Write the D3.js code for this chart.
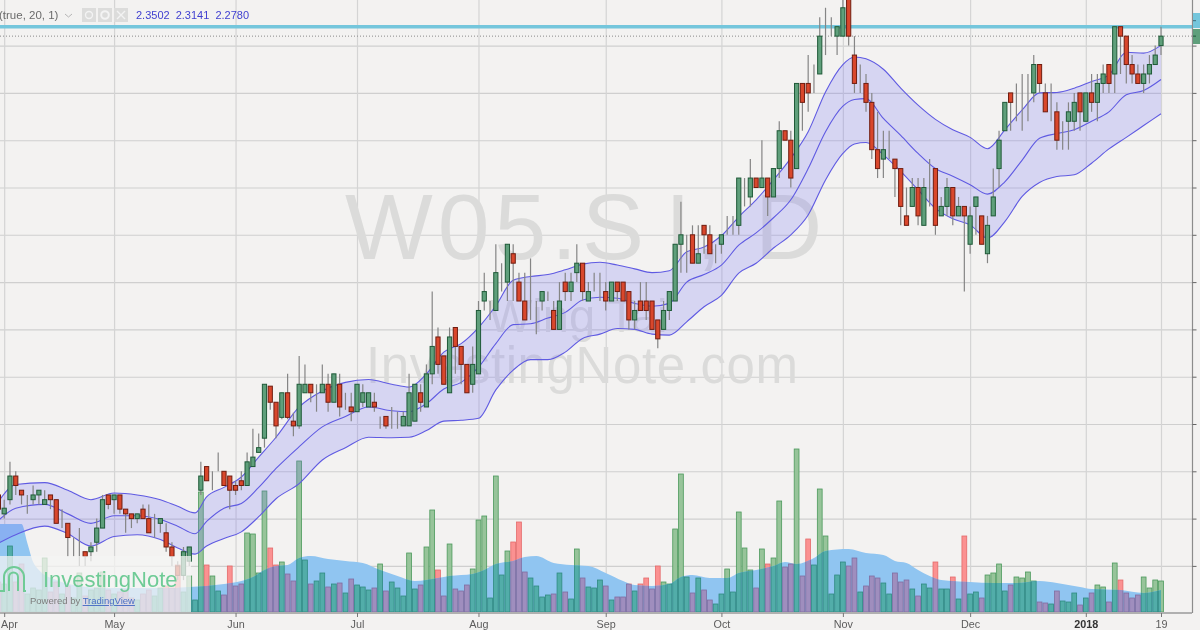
<!DOCTYPE html>
<html>
<head>
<meta charset="utf-8">
<title>W05.SI</title>
<script src="https://cdn.jsdelivr.net/npm/d3@7/dist/d3.min.js"></script>
<style>
html, body { margin: 0; padding: 0; background: #f3f2f1; overflow: hidden; }
/* the reference is a soft jpeg */
svg { display: block; font-family: "Liberation Sans", Arial, sans-serif; filter: blur(0.4px); }
</style>
</head>
<body>
<svg id="chart" width="1200" height="630"></svg>
<script>
// daily candles (cents mostly, index 0 is the bar just before 3 Apr)
const opens = [
  1.875,1.855,1.87,1.895,1.88,1.87,1.87,1.875,1.865,1.875,
  1.87,1.85,1.845,1.825,1.815,1.815,1.815,1.825,1.84,1.875,
  1.87,1.875,1.86,1.855,1.85,1.86,1.85,1.835,1.845,1.835,
  1.82,1.80,1.79,1.805,1.82,1.88,1.905,1.90,1.905,1.90,
  1.895,1.885,1.89,1.885,1.905,1.92,1.935,1.99,1.973,1.957,
  1.983,1.953,1.948,1.983,1.992,1.992,1.983,1.992,1.973,1.992,
  1.983,1.968,1.963,1.973,1.968,1.973,1.958,1.958,1.948,1.958,
  1.948,1.948,1.953,1.983,1.968,2.003,2.042,2.022,1.983,2.052,
  2.032,2.013,1.992,2.003,2.08,2.07,2.07,2.11,2.10,2.13,
  2.10,2.08,2.07,2.07,2.08,2.08,2.07,2.05,2.10,2.09,
  2.11,2.12,2.08,2.10,2.10,2.09,2.08,2.10,2.10,2.09,
  2.06,2.08,2.08,2.08,2.06,2.05,2.07,2.08,2.14,2.15,
  2.15,2.12,2.16,2.15,2.13,2.14,2.15,2.17,2.16,2.21,
  2.19,2.21,2.20,2.21,2.19,2.22,2.26,2.25,2.22,2.31,
  2.31,2.32,2.32,2.36,2.36,2.36,2.36,2.40,2.34,2.31,
  2.31,2.29,2.24,2.23,2.24,2.23,2.22,2.17,2.18,2.20,
  2.16,2.20,2.22,2.17,2.18,2.20,2.17,2.18,2.14,2.18,
  2.17,2.13,2.17,2.22,2.26,2.30,2.30,2.30,2.30,2.30,
  2.33,2.30,2.28,2.28,2.25,2.27,2.27,2.30,2.27,2.30,
  2.29,2.31,2.33,2.32,2.37,2.36,2.33,2.32,2.31,2.32,
  2.33,2.35
];
const closes = [
  1.86,1.861,1.895,1.885,1.875,1.87,1.875,1.88,1.87,1.87,
  1.845,1.85,1.83,1.825,1.815,1.81,1.82,1.84,1.87,1.865,
  1.875,1.86,1.855,1.85,1.855,1.85,1.835,1.835,1.85,1.82,
  1.81,1.79,1.815,1.82,1.82,1.895,1.89,1.90,1.905,1.885,
  1.88,1.88,1.885,1.91,1.915,1.925,1.992,1.973,1.948,1.983,
  1.957,1.948,1.992,1.992,1.983,1.992,1.992,1.973,2.003,1.968,
  1.983,1.963,1.992,1.983,1.983,1.968,1.958,1.948,1.948,1.958,
  1.958,1.983,1.992,1.973,2.003,2.032,2.013,1.992,2.042,2.032,
  2.013,1.983,2.013,2.07,2.09,2.07,2.11,2.11,2.14,2.12,
  2.08,2.06,2.07,2.07,2.09,2.08,2.05,2.08,2.09,2.10,
  2.12,2.09,2.09,2.10,2.10,2.08,2.10,2.09,2.08,2.06,
  2.07,2.07,2.07,2.05,2.04,2.07,2.09,2.14,2.15,2.15,
  2.12,2.13,2.15,2.13,2.13,2.15,2.15,2.17,2.21,2.21,
  2.21,2.20,2.21,2.19,2.22,2.26,2.25,2.21,2.31,2.29,
  2.30,2.32,2.36,2.36,2.36,2.37,2.39,2.36,2.31,2.31,
  2.29,2.24,2.22,2.24,2.24,2.22,2.18,2.16,2.20,2.17,
  2.20,2.20,2.16,2.18,2.20,2.17,2.18,2.17,2.17,2.19,
  2.14,2.16,2.19,2.25,2.29,2.29,2.30,2.30,2.30,2.33,
  2.31,2.28,2.28,2.25,2.25,2.28,2.29,2.28,2.30,2.29,
  2.31,2.32,2.31,2.37,2.36,2.33,2.32,2.31,2.32,2.33,
  2.34,2.36
];
const highs = [
  1.88,1.87,1.91,1.90,1.88,1.875,1.885,1.88,1.88,1.875,
  1.87,1.86,1.845,1.83,1.84,1.815,1.825,1.85,1.875,1.875,
  1.875,1.875,1.86,1.855,1.855,1.865,1.865,1.855,1.85,1.845,
  1.825,1.805,1.82,1.82,1.82,1.91,1.905,1.90,1.92,1.90,
  1.895,1.89,1.90,1.92,1.945,1.94,1.992,1.99,1.973,1.983,
  2.003,1.962,2.022,2.013,1.992,1.992,2.013,2.003,2.003,2.003,
  1.983,1.983,1.992,1.992,1.983,1.983,1.958,1.958,1.968,1.963,
  1.963,2.003,1.992,1.992,2.013,2.09,2.052,2.022,2.052,2.052,
  2.032,2.013,2.032,2.08,2.11,2.08,2.14,2.12,2.14,2.14,
  2.11,2.11,2.125,2.08,2.09,2.09,2.08,2.10,2.11,2.11,
  2.14,2.12,2.10,2.11,2.11,2.10,2.10,2.10,2.10,2.09,
  2.08,2.10,2.10,2.08,2.06,2.08,2.09,2.14,2.185,2.15,
  2.16,2.16,2.16,2.16,2.14,2.15,2.17,2.17,2.21,2.21,
  2.23,2.21,2.25,2.21,2.22,2.27,2.26,2.26,2.31,2.31,
  2.34,2.33,2.38,2.39,2.38,2.37,2.40,2.42,2.36,2.33,
  2.32,2.30,2.28,2.26,2.26,2.23,2.22,2.20,2.21,2.21,
  2.21,2.23,2.22,2.19,2.21,2.20,2.19,2.18,2.18,2.19,
  2.17,2.17,2.22,2.26,2.29,2.30,2.31,2.32,2.32,2.34,
  2.33,2.31,2.31,2.29,2.27,2.29,2.30,2.30,2.30,2.32,
  2.32,2.33,2.33,2.37,2.37,2.36,2.34,2.33,2.33,2.34,
  2.35,2.37
];
const lows = [
  1.855,1.85,1.865,1.875,1.865,1.855,1.865,1.865,1.865,1.86,
  1.845,1.84,1.81,1.81,1.80,1.80,1.805,1.815,1.84,1.86,
  1.855,1.855,1.835,1.84,1.845,1.85,1.835,1.83,1.835,1.815,
  1.80,1.785,1.785,1.80,1.82,1.875,1.89,1.88,1.90,1.885,
  1.86,1.875,1.88,1.885,1.905,1.92,1.925,1.965,1.935,1.955,
  1.955,1.937,1.945,1.983,1.973,1.963,1.983,1.963,1.973,1.958,
  1.965,1.953,1.963,1.968,1.968,1.963,1.945,1.945,1.945,1.945,
  1.948,1.948,1.953,1.963,1.968,1.992,2.003,1.992,1.983,2.003,
  1.992,1.983,1.983,2.003,2.07,2.06,2.07,2.09,2.08,2.08,
  2.08,2.06,2.06,2.045,2.07,2.08,2.05,2.05,2.08,2.08,
  2.10,2.08,2.08,2.09,2.08,2.07,2.08,2.08,2.08,2.05,
  2.05,2.07,2.06,2.05,2.03,2.05,2.06,2.08,2.11,2.11,
  2.12,2.12,2.13,2.13,2.12,2.13,2.15,2.15,2.15,2.18,
  2.18,2.20,2.20,2.17,2.19,2.21,2.25,2.20,2.22,2.26,
  2.28,2.30,2.32,2.34,2.36,2.34,2.36,2.35,2.30,2.30,
  2.28,2.23,2.21,2.21,2.23,2.19,2.16,2.16,2.18,2.16,
  2.16,2.18,2.15,2.17,2.17,2.16,2.17,2.09,2.13,2.15,
  2.14,2.12,2.17,2.20,2.26,2.26,2.27,2.26,2.27,2.29,
  2.30,2.28,2.27,2.24,2.24,2.24,2.26,2.26,2.27,2.28,
  2.27,2.30,2.30,2.30,2.32,2.31,2.31,2.31,2.30,2.31,
  2.33,2.34
];
// volume in picture units, no axis labels on this pane
const volumes = [
  30,28,66,30,48,18,24,22,54,20,
  30,18,26,14,39,16,22,24,40,22,
  18,20,22,14,12,18,22,16,24,26,
  24,47,20,36,12,120,47,36,21,17,
  46,26,28,79,78,39,121,64,47,50,
  38,31,151,52,28,31,39,25,28,29,
  19,33,27,25,22,24,48,21,30,24,
  16,59,23,27,65,102,42,16,68,23,
  21,27,43,92,96,14,136,37,61,70,
  90,40,34,26,15,17,18,39,20,13,
  63,34,25,24,32,26,12,15,15,28,
  21,28,34,23,46,30,28,83,138,35,
  19,34,22,12,8,18,43,20,100,64,
  42,24,63,48,54,111,45,48,163,36,
  73,47,123,76,18,37,50,46,54,20,
  26,36,34,29,18,39,30,32,23,16,
  28,24,50,23,23,35,13,76,18,20,
  14,37,39,48,21,27,35,34,40,31,
  10,9,8,21,11,10,19,7,14,19,
  27,25,10,49,32,19,14,17,35,24,
  32,31
];
// volume average, sampled where the curve bends
const volMaIdx = [0,4,5,6,7,10,14,18,22,26,30,33,36,39,42,44,46,48,50,52,54,57,60,63,66,69,72,74,76,78,82,84,86,89,91,93,96,99,102,105,108,110,113,116,118,120,123,126,128,131,134,136,138,141,143,147,150,153,155,157,159,161,163,168,172,176,180,183,187,189,194,198,201];
const volMa = [88,88,69,50,42,32,26,24,24,24,24,25,26,28,31,35,42,46,47,54,56,53,51,49,42,36,31,32,34,36,38,42,48,51,55,56,49,47,46,39,31,27,26,28,35,37,34,34,39,42,46,50,48,54,61,63,59,57,51,49,42,36,32,30,29,29,31,29,25,23,22,19,22];
// bollinger bands (true, 20, 1), sampled too
const bandIdx = [0,3,8,12,16,20,24,28,31,34,36,39,42,45,48,52,56,60,64,68,71,74,77,80,83,86,89,92,95,98,101,104,107,110,113,116,119,122,125,128,131,134,137,140,143,146,148,150,153,156,159,162,165,168,171,174,177,180,183,186,189,192,195,198,201];
const upper = [1.868,1.886,1.888,1.880,1.870,1.877,1.875,1.870,1.863,1.856,1.873,1.883,1.894,1.915,1.936,1.968,1.985,1.994,1.997,1.992,1.989,2.003,2.026,2.035,2.052,2.075,2.102,2.106,2.108,2.113,2.119,2.121,2.118,2.114,2.110,2.112,2.132,2.137,2.149,2.169,2.187,2.208,2.231,2.259,2.301,2.330,2.338,2.336,2.325,2.305,2.287,2.272,2.261,2.253,2.241,2.261,2.282,2.300,2.3005,2.305,2.312,2.319,2.343,2.342,2.3502];
const basis = [1.848,1.861,1.865,1.855,1.845,1.853,1.853,1.849,1.842,1.834,1.847,1.861,1.866,1.883,1.903,1.926,1.947,1.958,1.968,1.964,1.963,1.9715,1.987,1.994,2.010,2.035,2.055,2.056,2.062,2.068,2.081,2.084,2.083,2.0775,2.0745,2.0775,2.100,2.108,2.118,2.139,2.152,2.168,2.187,2.220,2.259,2.286,2.293,2.294,2.273,2.255,2.236,2.220,2.212,2.203,2.193,2.206,2.229,2.252,2.257,2.261,2.270,2.280,2.298,2.3025,2.3141];
const lower = [1.824,1.833,1.842,1.834,1.821,1.831,1.833,1.828,1.819,1.8125,1.821,1.829,1.836,1.852,1.871,1.887,1.912,1.925,1.936,1.9355,1.936,1.943,1.953,1.954,1.956,1.986,2.007,2.018,2.018,2.026,2.0405,2.045,2.051,2.05,2.045,2.044,2.058,2.074,2.086,2.1095,2.120,2.136,2.150,2.171,2.208,2.236,2.246,2.2475,2.2345,2.217,2.1975,2.178,2.167,2.1605,2.1465,2.164,2.1905,2.2053,2.2116,2.2134,2.2257,2.2408,2.253,2.2655,2.2780];
// month labels on the time axis, index into the bars
const tickIdx = [1,20,41,62,83,105,125,146,168,188,201];
const tickLabels = ['Apr','May','Jun','Jul','Aug','Sep','Oct','Nov','Dec','2018','19'];
const priceTicks = [1.80,1.85,1.90,1.95,2.00,2.05,2.10,2.15,2.20,2.25,2.30,2.35];
const resistance = 2.37;
const lastClose = closes[closes.length - 1];
const legendValues = ['2.3502','2.3141','2.2780'];

const plotRight = 1192;
const volBase = 612;

const svg = d3.select('#chart');

const x = d3.scaleLinear().domain([0, 201]).range([-1.6, 1161]);
const y = d3.scaleLinear().domain([1.80, 2.35]).range([565.9, 45.6]);
const volY = d3.scaleLinear().domain([0, 200]).range([volBase, volBase - 200]);

svg.append('rect').attr('x', -5).attr('y', -5).attr('width', 1210).attr('height', 640).attr('fill', '#f3f2f1');

const defs = svg.append('defs');
defs.append('clipPath').attr('id', 'plot')
  .append('rect').attr('width', plotRight).attr('height', volBase);

const plot = svg.append('g').attr('clip-path', 'url(#plot)');

// grid comes from the axes with long ticks
const gridY = d3.axisRight(y).tickValues(priceTicks).tickSize(plotRight).tickFormat('');
const gridX = d3.axisBottom(x).tickValues(tickIdx).tickSize(volBase).tickFormat('');
plot.append('g').call(gridY)
  .call(g => g.select('.domain').remove())
  .selectAll('line').attr('stroke', '#cfcfcf').attr('stroke-width', 1.1);
plot.append('g').call(gridX)
  .call(g => g.select('.domain').remove())
  .selectAll('line').attr('stroke', '#d4d4d4').attr('stroke-width', 1.2);

// watermark
const mark = plot.append('g').attr('fill', '#dbdbda');
const ticker = mark.append('text').attr('x', 345).attr('y', 259).attr('font-size', 93).attr('letter-spacing', 5);
ticker.append('tspan').text('W05.S');
ticker.append('tspan').attr('dx', 16).text('I');
ticker.append('tspan').text(',');
ticker.append('tspan').attr('x', 755).text('D');
mark.append('text').attr('x', 488).attr('y', 332).attr('font-size', 47).text('Wing Tai');
mark.append('text').attr('x', 366).attr('y', 383).attr('font-size', 51)
  .attr('letter-spacing', 0.6).text('InvestingNote.com');

// volume, light bars first, average on top, then the darker bars clipped to the average
const isUp = d => closes[d] >= opens[d];
const barW = 4.8;
const idx = d3.range(volumes.length);

const maArea = d3.area()
  .x(d => x(volMaIdx[d]))
  .y0(volY(0))
  .y1(d => volY(volMa[d]))
  .curve(d3.curveMonotoneX);
const maPath = maArea(d3.range(volMa.length));

plot.append('g').selectAll('rect').data(idx).enter().append('rect')
  .attr('x', d => x(d) - barW / 2)
  .attr('y', d => volY(volumes[d]))
  .attr('width', barW)
  .attr('height', d => volY(0) - volY(volumes[d]))
  .attr('fill', d => isUp(d) ? '#97c49a' : '#fb9191')
  .attr('stroke', d => isUp(d) ? '#4c9a5c' : '#e46a6a')
  .attr('stroke-width', 0.8);

plot.append('path').attr('d', maPath).attr('fill', '#90c5f1');

defs.append('clipPath').attr('id', 'maClip').append('path').attr('d', maPath);
plot.append('g').attr('clip-path', 'url(#maClip)')
  .selectAll('rect').data(idx).enter().append('rect')
  .attr('x', d => x(d) - barW / 2)
  .attr('y', d => volY(volumes[d]))
  .attr('width', barW)
  .attr('height', d => volY(0) - volY(volumes[d]))
  .attr('fill', d => isUp(d) ? '#52ada9' : '#9f8ebe')
  .attr('stroke', d => isUp(d) ? '#2f8a80' : '#7f6da0')
  .attr('stroke-width', 0.8);

// bands
const bandArea = d3.area()
  .x(d => x(bandIdx[d]))
  .y0(d => y(lower[d]))
  .y1(d => y(upper[d]))
  .curve(d3.curveMonotoneX);
const bandLine = vals => d3.line()
  .x(d => x(bandIdx[d]))
  .y(d => y(vals[d]))
  .curve(d3.curveMonotoneX);
const bandPts = d3.range(bandIdx.length);

plot.append('path').attr('d', bandArea(bandPts)).attr('fill', '#736cf5').attr('fill-opacity', 0.22);
[upper, basis, lower].forEach(vals => {
  plot.append('path').attr('d', bandLine(vals)(bandPts))
    .attr('fill', 'none').attr('stroke', '#5f5ae2').attr('stroke-width', 1.1);
});

// level lines
plot.append('line').attr('x1', 0).attr('x2', plotRight)
  .attr('y1', y(lastClose)).attr('y2', y(lastClose))
  .attr('stroke', '#8a8a8a').attr('stroke-dasharray', '1,2');
plot.append('line').attr('x1', 0).attr('x2', plotRight)
  .attr('y1', y(resistance)).attr('y2', y(resistance))
  .attr('stroke', '#74c6dc').attr('stroke-width', 3.6);

// candles
const candle = plot.append('g').selectAll('g').data(idx).enter().append('g');
candle.append('line')
  .attr('x1', d => x(d)).attr('x2', d => x(d))
  .attr('y1', d => y(highs[d])).attr('y2', d => y(lows[d]))
  .attr('stroke', '#858585').attr('stroke-width', 1.2);
candle.append('rect')
  .attr('x', d => opens[d] === closes[d] ? x(d) - 2.4 : x(d) - 2.1)
  .attr('y', d => y(Math.max(opens[d], closes[d])))
  .attr('width', d => opens[d] === closes[d] ? 4.8 : 4.2)
  .attr('height', d => Math.abs(y(opens[d]) - y(closes[d])))
  .attr('fill', d => isUp(d) ? '#5f9f7b' : '#d9472c')
  .attr('stroke', d => opens[d] === closes[d] ? '#777' : (isUp(d) ? '#1f5a38' : '#701d10'))
  .attr('stroke-width', d => opens[d] === closes[d] ? 0.8 : 1);

// logo block over the bottom left corner
const logo = svg.append('g');
logo.append('rect').attr('x', 0).attr('y', 556).attr('width', 191).attr('height', 56)
  .attr('fill', '#f4f4f3').attr('fill-opacity', 0.74);
logo.append('path').attr('d', 'M0 591H4V577A10 10 0 0 1 24 577V591H26')
  .attr('fill', 'none').attr('stroke', '#6fcb96').attr('stroke-width', 2);
logo.append('path').attr('d', 'M9 591V577A4.5 4.5 0 0 1 18 577V591')
  .attr('fill', 'none').attr('stroke', '#6fcb96').attr('stroke-width', 2);
logo.append('text').attr('x', 43).attr('y', 587).attr('font-size', 22)
  .attr('fill', '#6fcb96').text('InvestingNote');
const powered = logo.append('text').attr('x', 30).attr('y', 604).attr('font-size', 9.5).attr('fill', '#7d7d7d');
powered.append('tspan').text('Powered by ');
powered.append('tspan').attr('fill', '#4a6fc4').attr('text-decoration', 'underline').text('TradingView');

// axes
const xAxis = d3.axisBottom(x).tickValues(tickIdx).tickSize(4)
  .tickFormat((d, i) => tickLabels[i]);
const xg = svg.append('g').attr('transform', `translate(0,${volBase + 1})`).call(xAxis);
xg.select('.domain').attr('d', `M0,0H${plotRight}`).attr('stroke', '#9a9a9a').attr('stroke-width', 1.6);
xg.selectAll('line').attr('stroke', '#777');
xg.selectAll('text').attr('font-size', 10.8).attr('font-family', '"Liberation Sans", Arial, sans-serif')
  .attr('fill', d => d === 188 ? '#333' : '#5c5c5c')
  .attr('font-weight', d => d === 188 ? 'bold' : 'normal')
  .attr('dy', '0.78em');
// Apr sits on the window edge, keep it inside
xg.selectAll('text').filter(d => d === 1).attr('text-anchor', 'start').attr('x', -3.6);

const yAxis = d3.axisRight(y).tickValues(priceTicks).tickSize(4).tickFormat('');
const yg = svg.append('g').attr('transform', `translate(${plotRight + 0.5},0)`).call(yAxis);
yg.select('.domain').attr('d', `M0,0V${volBase + 1}`).attr('stroke', '#8c8c8c').attr('stroke-width', 1.2);
yg.selectAll('line').attr('stroke', '#666');

// the two price flags, their text is cut off by the edge of the window
svg.append('rect').attr('x', 1193).attr('y', 13).attr('width', 10).attr('height', 15).attr('fill', '#74c6dc');
svg.append('rect').attr('x', 1193).attr('y', 29).attr('width', 10).attr('height', 15).attr('fill', '#5f9f7b');
svg.append('line').attr('x1', 1193).attr('x2', 1196).attr('y1', y(resistance) - 6).attr('y2', y(resistance) - 6).attr('stroke', '#3d6f7c');
svg.append('line').attr('x1', 1193).attr('x2', 1196).attr('y1', y(lastClose)).attr('y2', y(lastClose)).attr('stroke', '#1f5a38');

// study legend
const legend = svg.append('g').attr('font-size', 11.5);
legend.append('text').attr('x', -1).attr('y', 19).attr('fill', '#6a6a6a').text('(true, 20, 1)');
legend.append('path').attr('d', 'M65 14L68.5 17L72 14').attr('fill', 'none').attr('stroke', '#b5b5b5');
[82, 98, 114].forEach(bx => {
  legend.append('rect').attr('x', bx).attr('y', 8).attr('width', 14).attr('height', 14).attr('fill', '#dcdcdb');
});
legend.append('circle').attr('cx', 89).attr('cy', 15).attr('r', 3.5).attr('fill', 'none').attr('stroke', '#f3f3f3').attr('stroke-width', 1.4);
legend.append('circle').attr('cx', 105).attr('cy', 15).attr('r', 3.8).attr('fill', 'none').attr('stroke', '#f3f3f3').attr('stroke-width', 2);
legend.append('path').attr('d', 'M117 11L125 19M125 11L117 19').attr('stroke', '#f3f3f3').attr('stroke-width', 1.4);
legend.selectAll('.val').data(legendValues).enter().append('text')
  .attr('class', 'val')
  .attr('x', (d, i) => 136 + i * 39.7)
  .attr('y', 19)
  .attr('font-size', 11)
  .attr('fill', '#3f3fd0')
  .text(d => d);
</script>
</body>
</html>
